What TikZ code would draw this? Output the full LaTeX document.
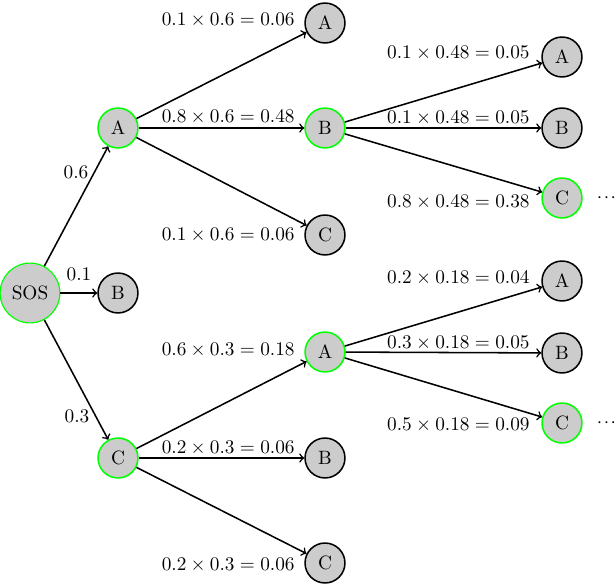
\documentclass[tikz,border=0pt]{standalone}
\begin{document}
\begin{tikzpicture}[x=0.5185pt,y=-0.5185pt,
  st/.style={circle,draw=black,fill=gray!40,thick,minimum size=20.7pt,inner sep=0pt},
  act/.style={st,draw=green},
  sos/.style={act,semithick,minimum size=31pt},
  edge/.style={->,thick},
  prob/.style={anchor=east,inner sep=0pt},
  elab/.style={inner sep=0pt},
  dotsn/.style={inner sep=0pt,anchor=east}]
\useasboundingbox (0,0) rectangle (616,586);
\node[sos] (s) at (30,293) {SOS};
\node[act] (a) at (118,128) {A};
\node[st] (b) at (118,293) {B};
\node[act] (c) at (118,458) {C};
\node[st] (aa) at (325,23) {A};
\node[act] (ab) at (325,128) {B};
\node[st] (ac) at (325,235) {C};
\node[act] (ca) at (325,352) {A};
\node[st] (cb) at (325,458) {B};
\node[st] (cc) at (325,563) {C};
\node[st] (aba) at (562,57) {A};
\node[st] (abb) at (562,128) {B};
\node[act] (abc) at (562,198) {C};
\node[st] (caa) at (562,281) {A};
\node[st] (cab) at (562,353) {B};
\node[act] (cac) at (562,423) {C};
\node[dotsn] (d1) at (616.5,198) {$\cdotp\mkern-1.5mu\cdotp\mkern-1.5mu\cdotp$};
\node[dotsn] (d2) at (616.5,423) {$\cdotp\mkern-1.5mu\cdotp\mkern-1.5mu\cdotp$};
\draw[edge] (s) -- (a);
\draw[edge] (s) -- (b);
\draw[edge] (s) -- (c);
\draw[edge] (a) -- (aa);
\draw[edge] (a) -- (ab);
\draw[edge] (a) -- (ac);
\draw[edge] (c) -- (ca);
\draw[edge] (c) -- (cb);
\draw[edge] (c) -- (cc);
\draw[edge] (ab) -- (aba);
\draw[edge] (ab) -- (abb);
\draw[edge] (ab) -- (abc);
\draw[edge] (ca) -- (caa);
\draw[edge] (ca) -- (cab);
\draw[edge] (ca) -- (cac);
\node[elab] (l1) at (76,172) {$0.6$};
\node[elab] (l2) at (79,274) {$0.1$};
\node[elab] (l3) at (77,416) {$0.3$};
\node[prob] (p1) at (295,20) {$0.1\times0.6=0.06$};
\node[prob] (p2) at (295,117) {$0.8\times0.6=0.48$};
\node[prob] (p3) at (295,235) {$0.1\times0.6=0.06$};
\node[prob] (p4) at (295,350) {$0.6\times0.3=0.18$};
\node[prob] (p5) at (295,448) {$0.2\times0.3=0.06$};
\node[prob] (p6) at (295,565) {$0.2\times0.3=0.06$};
\node[prob] (q1) at (530,53) {$0.1\times0.48=0.05$};
\node[prob] (q2) at (530,118) {$0.1\times0.48=0.05$};
\node[prob] (q3) at (530,202) {$0.8\times0.48=0.38$};
\node[prob] (q4) at (530,278) {$0.2\times0.18=0.04$};
\node[prob] (q5) at (530,343) {$0.3\times0.18=0.05$};
\node[prob] (q6) at (530,425) {$0.5\times0.18=0.09$};
\end{tikzpicture}
\end{document}
